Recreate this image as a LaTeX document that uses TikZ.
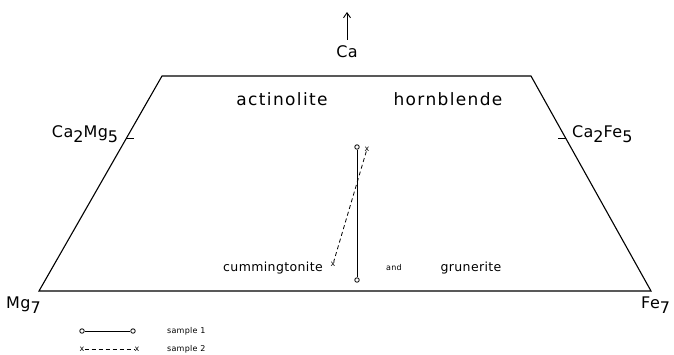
\documentclass[tikz,border=0pt]{standalone}
\usepackage{fontspec}
\setmainfont{DejaVu Sans}
\newfontfamily\lettering[LetterSpace=8]{DejaVu Sans}
\newfontfamily\lowlettering[LetterSpace=3]{DejaVu Sans}
\usetikzlibrary{arrows.meta,positioning,calc}
\newcommand{\low}[1]{\raisebox{-5pt}{#1}}

\begin{document}
\begin{tikzpicture}[x=1pt, y=-1pt,
    field/.style={font=\lettering\fontsize{17}{17}\selectfont, inner sep=0pt},
    lowfield/.style={font=\lowlettering\fontsize{12.5}{12.5}\selectfont, inner sep=0pt},
    formula/.style={font=\lowlettering\fontsize{16}{16}\selectfont, inner sep=0pt},
    note/.style={font=\lowlettering\fontsize{8}{8}\selectfont, inner sep=0pt},
    openmark/.style={circle, draw, line width=0.8pt, inner sep=0pt, minimum size=4.5pt},
    xmark/.style={font=\fontsize{8}{8}\selectfont, inner sep=0pt},
    edge/.style={line width=1.1pt},
    tickmark/.style={line width=1.1pt},
    sampleone/.style={line width=1pt},
    sampletwo/.style={line width=0.8pt, dash pattern=on 4pt off 3pt},
    caarrow/.style={-{Straight Barb[length=5pt, width=7pt]}, line width=0.9pt}
]
    \useasboundingbox (0,0) rectangle (674,354);

    % corners of the field
    \coordinate (mgc) at (39,291);
    \coordinate (tlc) at (162,76);
    \coordinate (trc) at (531,76);
    \coordinate (fec) at (651,291);
    \draw[edge] (mgc) -- (tlc) -- (trc) -- (fec) -- cycle;

    % end members
    \node (ca) at (347,52) [formula] {Ca};
    \coordinate (catip) at (347,12);
    \draw[caarrow] ([yshift=6pt]ca.north) -- (catip);

    \coordinate (camg) at ($(mgc)!0.71!(tlc)$);
    \coordinate (cafe) at ($(fec)!0.71!(trc)$);
    \draw[tickmark] (camg) -- ++(8,0);
    \draw[tickmark] (cafe) -- ++(-8,0);
    \node[formula, anchor=base east] (camgl) at ($(camg)+(-8,-1)$) {Ca\low{2}Mg\low{5}};
    \node[formula, anchor=base west] (cafel) at ($(cafe)+(6,-1)$) {Ca\low{2}Fe\low{5}};
    \node[formula, anchor=base west] (mg) at (6,308) {Mg\low{7}};
    \node[formula, anchor=base west] (fe) at (641,308) {Fe\low{7}};

    % mineral names
    \node[field] (act) at (282,99) {actinolite};
    \node[field] (hbl) at (448,99) {hornblende};
    \node[lowfield] (cum) at (273,268) {cummingtonite};
    \node[note] (and) at (394,268) {and};
    \node[lowfield] (gru) at (471,268) {grunerite};

    % samples
    \node[openmark] (s1a) at (357,147) {};
    \node[openmark] (s1b) at (357,280) {};
    \draw[sampleone] (s1a) -- (s1b);
    \node[xmark] (s2a) at (367,149) {x};
    \node[xmark] (s2b) at (333,264) {x};
    \draw[sampletwo] (s2a) -- (s2b);

    % legend
    \node[openmark] (k1a) at (82,331) {};
    \node[openmark] (k1b) at (133,331) {};
    \draw[sampleone] (k1a) -- (k1b);
    \node[note, anchor=west] (k1) at (167,331) {sample 1};
    \node[xmark] (k2a) at (82,349) {x};
    \node[xmark] (k2b) at (137,349) {x};
    \draw[sampletwo] (k2a) -- (k2b);
    \node[note, anchor=west] (k2) at (167,349) {sample 2};
\end{tikzpicture}
\end{document}
